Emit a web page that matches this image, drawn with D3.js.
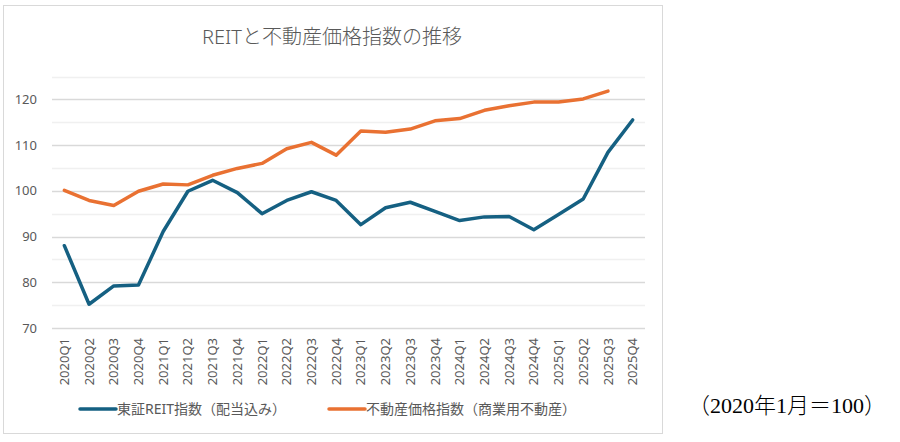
<!DOCTYPE html>
<html>
<head>
<meta charset="utf-8">
<script src="https://cdn.jsdelivr.net/npm/d3@7"></script>
<style>
  body { margin: 0; background: #fff; }
  svg text { font-family: "Noto Sans", "Noto Sans CJK JP", sans-serif; }
</style>
</head>
<body>
<svg id="chart" width="900" height="442"></svg>
<script>
const quarters = ['2020Q1','2020Q2','2020Q3','2020Q4','2021Q1','2021Q2','2021Q3','2021Q4',
  '2022Q1','2022Q2','2022Q3','2022Q4','2023Q1','2023Q2','2023Q3','2023Q4',
  '2024Q1','2024Q2','2024Q3','2024Q4','2025Q1','2025Q2','2025Q3','2025Q4'];

// 東証REIT指数（配当込み）
const reitValues = [88.0, 75.2, 79.2, 79.4, 91.1, 99.9, 102.3, 99.6,
  95.0, 97.9, 99.8, 97.9, 92.6, 96.3, 97.5, 95.5,
  93.5, 94.3, 94.4, 91.5, 94.8, 98.2, 108.4, 115.5];

// 不動産価格指数（商業用不動産） - 2025Q4 not yet published
const realEstateValues = [100.1, 97.9, 96.8, 99.9, 101.5, 101.3, 103.4, 104.9,
  106.0, 109.2, 110.6, 107.8, 113.1, 112.8, 113.5, 115.3,
  115.8, 117.6, 118.6, 119.4, 119.4, 120.1, 121.8, null];

const seriesNames = ['東証REIT指数（配当込み）', '不動産価格指数（商業用不動産）'];
const yTicks = [70, 75, 80, 85, 90, 95, 100, 105, 110, 115, 120, 125];

const title = 'REITと不動産価格指数の推移';
const note = '（2020年1月＝100）';

const svg = d3.select('#chart');
const blue = '#156082';
const orange = '#e97132';
const textGray = '#595959';

// chart frame
svg.append('rect')
    .attr('x', 3.5).attr('y', 5.5)
    .attr('width', 659).attr('height', 428)
    .attr('fill', '#fff')
    .attr('stroke', '#d9d9d9');

svg.append('text')
    .attr('x', 332).attr('y', 44)
    .attr('text-anchor', 'middle')
    .attr('font-size', 20)
    .attr('font-weight', 300)
    .attr('fill', textGray)
    .text(title);

const x = d3.scaleBand()
    .domain(quarters)
    .range([52, 645]);
const y = d3.scaleLinear()
    .domain([70, 125])
    .range([328, 76.5]);

const cx = q => x(q) + x.bandwidth() / 2;

// gridlines
svg.append('g')
  .selectAll('line')
  .data(yTicks)
  .join('line')
    .attr('x1', 52).attr('x2', 645)
    .attr('y1', d => Math.round(y(d)) + 0.5)
    .attr('y2', d => Math.round(y(d)) + 0.5)
    .attr('stroke', d => d % 10 === 0 ? '#d9d9d9' : '#f0f0f0')
    .attr('stroke-width', 1.3);

// y axis labels
const yAxis = svg.append('g')
    .attr('transform', 'translate(52,0)')
    .call(d3.axisLeft(y).tickValues(yTicks.filter(d => d % 10 === 0)).tickSize(0).tickPadding(15));
yAxis.select('.domain').remove();
yAxis.selectAll('text')
    .attr('font-size', 13)
    .attr('fill', textGray)
    .attr('font-family', '"Noto Sans", sans-serif');

// x axis labels
const xAxis = svg.append('g')
    .attr('transform', 'translate(0,328)')
    .call(d3.axisBottom(x).tickSize(0));
xAxis.select('.domain').remove();
xAxis.selectAll('text')
    .attr('font-size', 13)
    .attr('fill', textGray)
    .attr('font-family', '"Noto Sans", sans-serif')
    .attr('transform', 'rotate(-90)')
    .attr('text-anchor', 'end')
    .attr('x', -10)
    .attr('y', 0)
    .attr('dy', '0.35em');

const line = d3.line()
    .defined(d => d[1] != null)
    .x(d => cx(d[0]))
    .y(d => y(d[1]));

const series = [
  { name: seriesNames[0], values: reitValues, color: blue },
  { name: seriesNames[1], values: realEstateValues, color: orange }
];

svg.append('g')
  .selectAll('path')
  .data(series)
  .join('path')
    .attr('fill', 'none')
    .attr('stroke', d => d.color)
    .attr('stroke-width', 3.5)
    .attr('stroke-linejoin', 'round')
    .attr('stroke-linecap', 'round')
    .attr('d', d => line(quarters.map((q, i) => [q, d.values[i]])));

// legend
const legendX = [80, 329];
const legend = svg.append('g')
  .selectAll('g')
  .data(series)
  .join('g')
    .attr('transform', (d, i) => `translate(${legendX[i]},409)`);
legend.append('line')
    .attr('x1', 0).attr('x2', 36)
    .attr('stroke', d => d.color)
    .attr('stroke-width', 3.5)
    .attr('stroke-linecap', 'round');
legend.append('text')
    .attr('x', 37).attr('dy', '0.35em')
    .attr('font-size', 14)
    .attr('fill', textGray)
    .text(d => d.name);

// base note outside the frame
svg.append('text')
    .attr('x', 688).attr('y', 413)
    .attr('font-size', 22)
    .attr('font-weight', 300)
    .attr('fill', '#000')
    .style('font-family', '"Liberation Serif", "Noto Sans CJK JP", serif')
    .text(note);
</script>
</body>
</html>
